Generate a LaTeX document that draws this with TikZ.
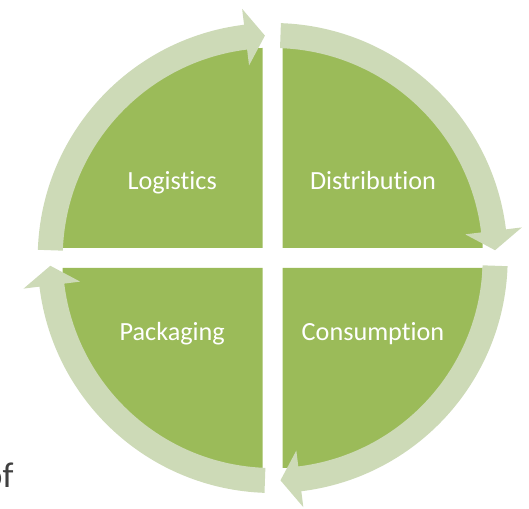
\documentclass[tikz,border=0pt]{standalone}
\usepackage{fontspec}
\setmainfont{Carlito}[RawFeature=-liga]
\usepackage{xcolor}
\usetikzlibrary{positioning,calc}
\definecolor{leafgreen}{HTML}{9BBB59}
\definecolor{palegreen}{HTML}{CDDAB7}
\definecolor{inkgray}{HTML}{404040}
\tikzset{
  quarter/.style={fill=leafgreen},
  ringarrow/.style={fill=palegreen},
  label/.style={text=white,font=\fontsize{26.3}{30}\selectfont,anchor=base}
}

\begin{document}
\begin{tikzpicture}[x=1bp,y=1bp]
  \useasboundingbox (0,0) rectangle (529,509);
  \clip (0,0) rectangle (529,509);
  \begin{scope}[shift={(272.7,251)}]
	% 四个扇形, 每个角向外错开 10
   \foreach \a in {0,90,180,270}
    \fill[quarter] (\a+45:14.142) -- ++(\a:200)
     arc[start angle=\a, end angle=\a+90, radius=200] -- cycle;
	% 外圈的弧形箭头 (顺时针)
   \foreach \a in {90,0,-90,-180}
    \fill[ringarrow] (\a+88:235)
     arc[start angle=\a+88, end angle=\a+7, radius=235]
     -- (\a+7:251) -- (\a+2:222.5) -- (\a+7:194) -- (\a+7:210)
     arc[start angle=\a+7, end angle=\a+88, radius=210] -- cycle;
   \node[label] (logistics) at (-100.5,68) {Logistics};
   \node[label] (distribution) at (100.3,68) {Distribution};
   \node[label] (packaging) at (-100.5,-82.7) {Packaging};
   \node[label] (consumption) at (100.3,-82.7) {Consumption};
  \end{scope}
  \node[anchor=base east,text=inkgray,font=\fontsize{36}{40}\selectfont]
   (of) at (17,21) {of};
\end{tikzpicture}
\end{document}
